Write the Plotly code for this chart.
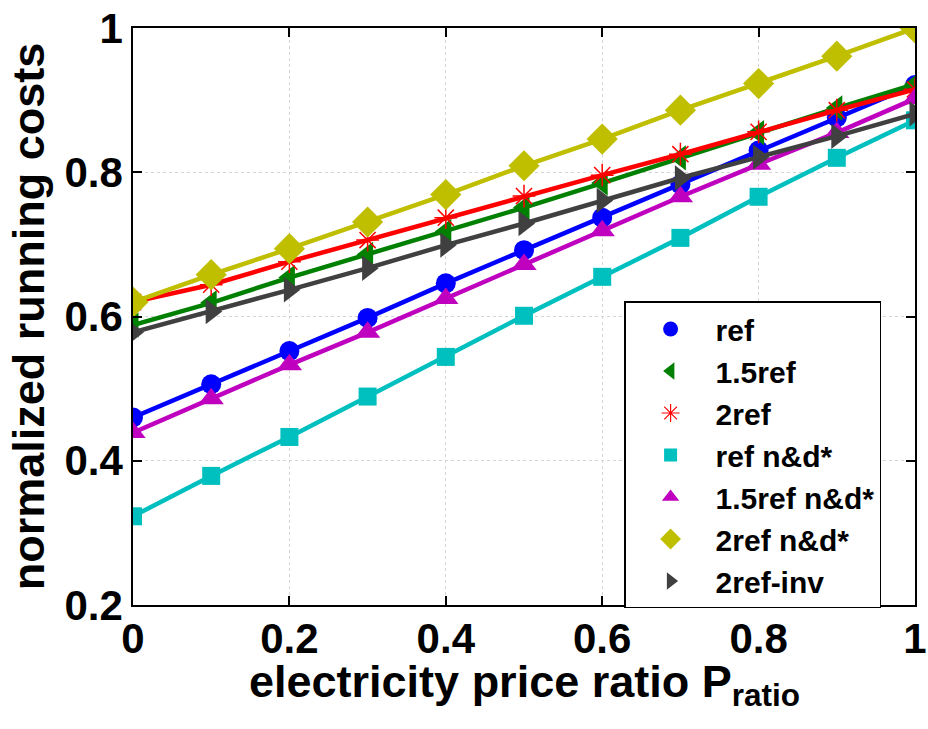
import plotly.graph_objects as go

# electricity price ratio (x) and normalized running costs per scenario
p_ratio = [0.0, 0.1, 0.2, 0.3, 0.4, 0.5, 0.6, 0.7, 0.8, 0.9, 1.0]

ref = [0.460, 0.506, 0.552, 0.598, 0.646, 0.692, 0.737, 0.783, 0.830, 0.876, 0.921]
ref15 = [0.588, 0.619, 0.654, 0.686, 0.718, 0.751, 0.785, 0.820, 0.855, 0.889, 0.922]
ref2 = [0.620, 0.644, 0.676, 0.706, 0.737, 0.767, 0.796, 0.825, 0.856, 0.886, 0.915]
ref_nd = [0.323, 0.379, 0.433, 0.489, 0.544, 0.601, 0.655, 0.709, 0.766, 0.820, 0.872]
ref15_nd = [0.439, 0.486, 0.533, 0.578, 0.625, 0.672, 0.719, 0.766, 0.811, 0.855, 0.902]
ref2_nd = [0.620, 0.658, 0.694, 0.731, 0.769, 0.809, 0.846, 0.886, 0.923, 0.961, 1.000]
ref2_inv = [0.578, 0.607, 0.637, 0.667, 0.699, 0.729, 0.761, 0.792, 0.821, 0.850, 0.881]

series_names = ["ref", "1.5ref", "2ref", "ref n&d*", "1.5ref n&d*", "2ref n&d*", "2ref-inv"]
series_values = [ref, ref15, ref2, ref_nd, ref15_nd, ref2_nd, ref2_inv]

x_ticks = [0, 0.2, 0.4, 0.6, 0.8, 1]
x_tick_labels = ["0", "0.2", "0.4", "0.6", "0.8", "1"]
y_ticks = [0.2, 0.4, 0.6, 0.8, 1]
y_tick_labels = ["0.2", "0.4", "0.6", "0.8", "1"]

styles = [
    dict(color="#0000FF", symbol="circle", size=20, lsize=15),
    dict(color="#008000", symbol="triangle-left", size=22, lsize=15),
    dict(color="#FF0000", symbol="asterisk-open", size=19, lsize=15),
    dict(color="#00BFBF", symbol="square", size=18, lsize=13),
    dict(color="#BF00BF", symbol="triangle-up", size=22, lsize=15),
    dict(color="#BFBF00", symbol="diamond", size=24, lsize=16),
    dict(color="#404040", symbol="triangle-right", size=22, lsize=15),
]

FONT = "Liberation Sans, Arial, sans-serif"

fig = go.Figure()

for name, vals, st in zip(series_names, series_values, styles):
    is_star = st["symbol"] == "asterisk-open"
    fig.add_trace(go.Scatter(
        x=p_ratio, y=vals, mode="lines+markers", name=name, showlegend=False,
        line=dict(color=st["color"], width=4.5),
        marker=dict(symbol=st["symbol"], size=st["size"], color=st["color"],
                    line=dict(color=st["color"], width=1.5 if is_star else 0)),
    ))

# marker-only legend entries
for name, st in zip(series_names, styles):
    is_star = st["symbol"] == "asterisk-open"
    fig.add_trace(go.Scatter(
        x=[None], y=[None], mode="markers", name=name, showlegend=True,
        marker=dict(symbol=st["symbol"], size=st["lsize"], color=st["color"],
                    line=dict(color=st["color"], width=1.2 if is_star else 0)),
    ))

axis_common = dict(
    showline=True, linecolor="black", linewidth=1.5, mirror="ticks",
    ticks="inside", ticklen=9, tickwidth=1.5, tickcolor="black",
    showgrid=True, gridcolor="#d4d4d4", griddash="dot", gridwidth=1,
    zeroline=False, automargin=False,
    tickfont=dict(family=FONT, size=42, color="black", weight="bold"),
)

fig.update_xaxes(range=[0, 1], tickvals=x_ticks, ticktext=x_tick_labels,
                 ticklabelstandoff=-4, **axis_common)
fig.update_yaxes(
    range=[0.2, 1], tickvals=y_ticks, ticktext=y_tick_labels,
    title=dict(text="<b>normalized running costs</b>",
               font=dict(family=FONT, size=45, color="black"), standoff=6),
    **axis_common,
)

# x-axis title placed just under the tick labels
fig.add_annotation(
    text="<b>electricity price ratio P<sub>ratio</sub></b>",
    xref="paper", yref="paper", x=0.5, y=-0.085, xanchor="center", yanchor="top",
    showarrow=False, font=dict(family=FONT, size=45, color="black"),
)

fig.update_layout(
    width=928, height=729,
    margin=dict(l=133, r=13, t=28, b=124),
    paper_bgcolor="white", plot_bgcolor="white",
    legend=dict(
        x=0.628, y=0.526, xanchor="left", yanchor="top",
        bgcolor="white", bordercolor="black", borderwidth=1.5,
        font=dict(family=FONT, size=30, color="black", weight="bold"),
        itemwidth=80, tracegroupgap=0,
    ),
)

fig.write_html("out.html")
